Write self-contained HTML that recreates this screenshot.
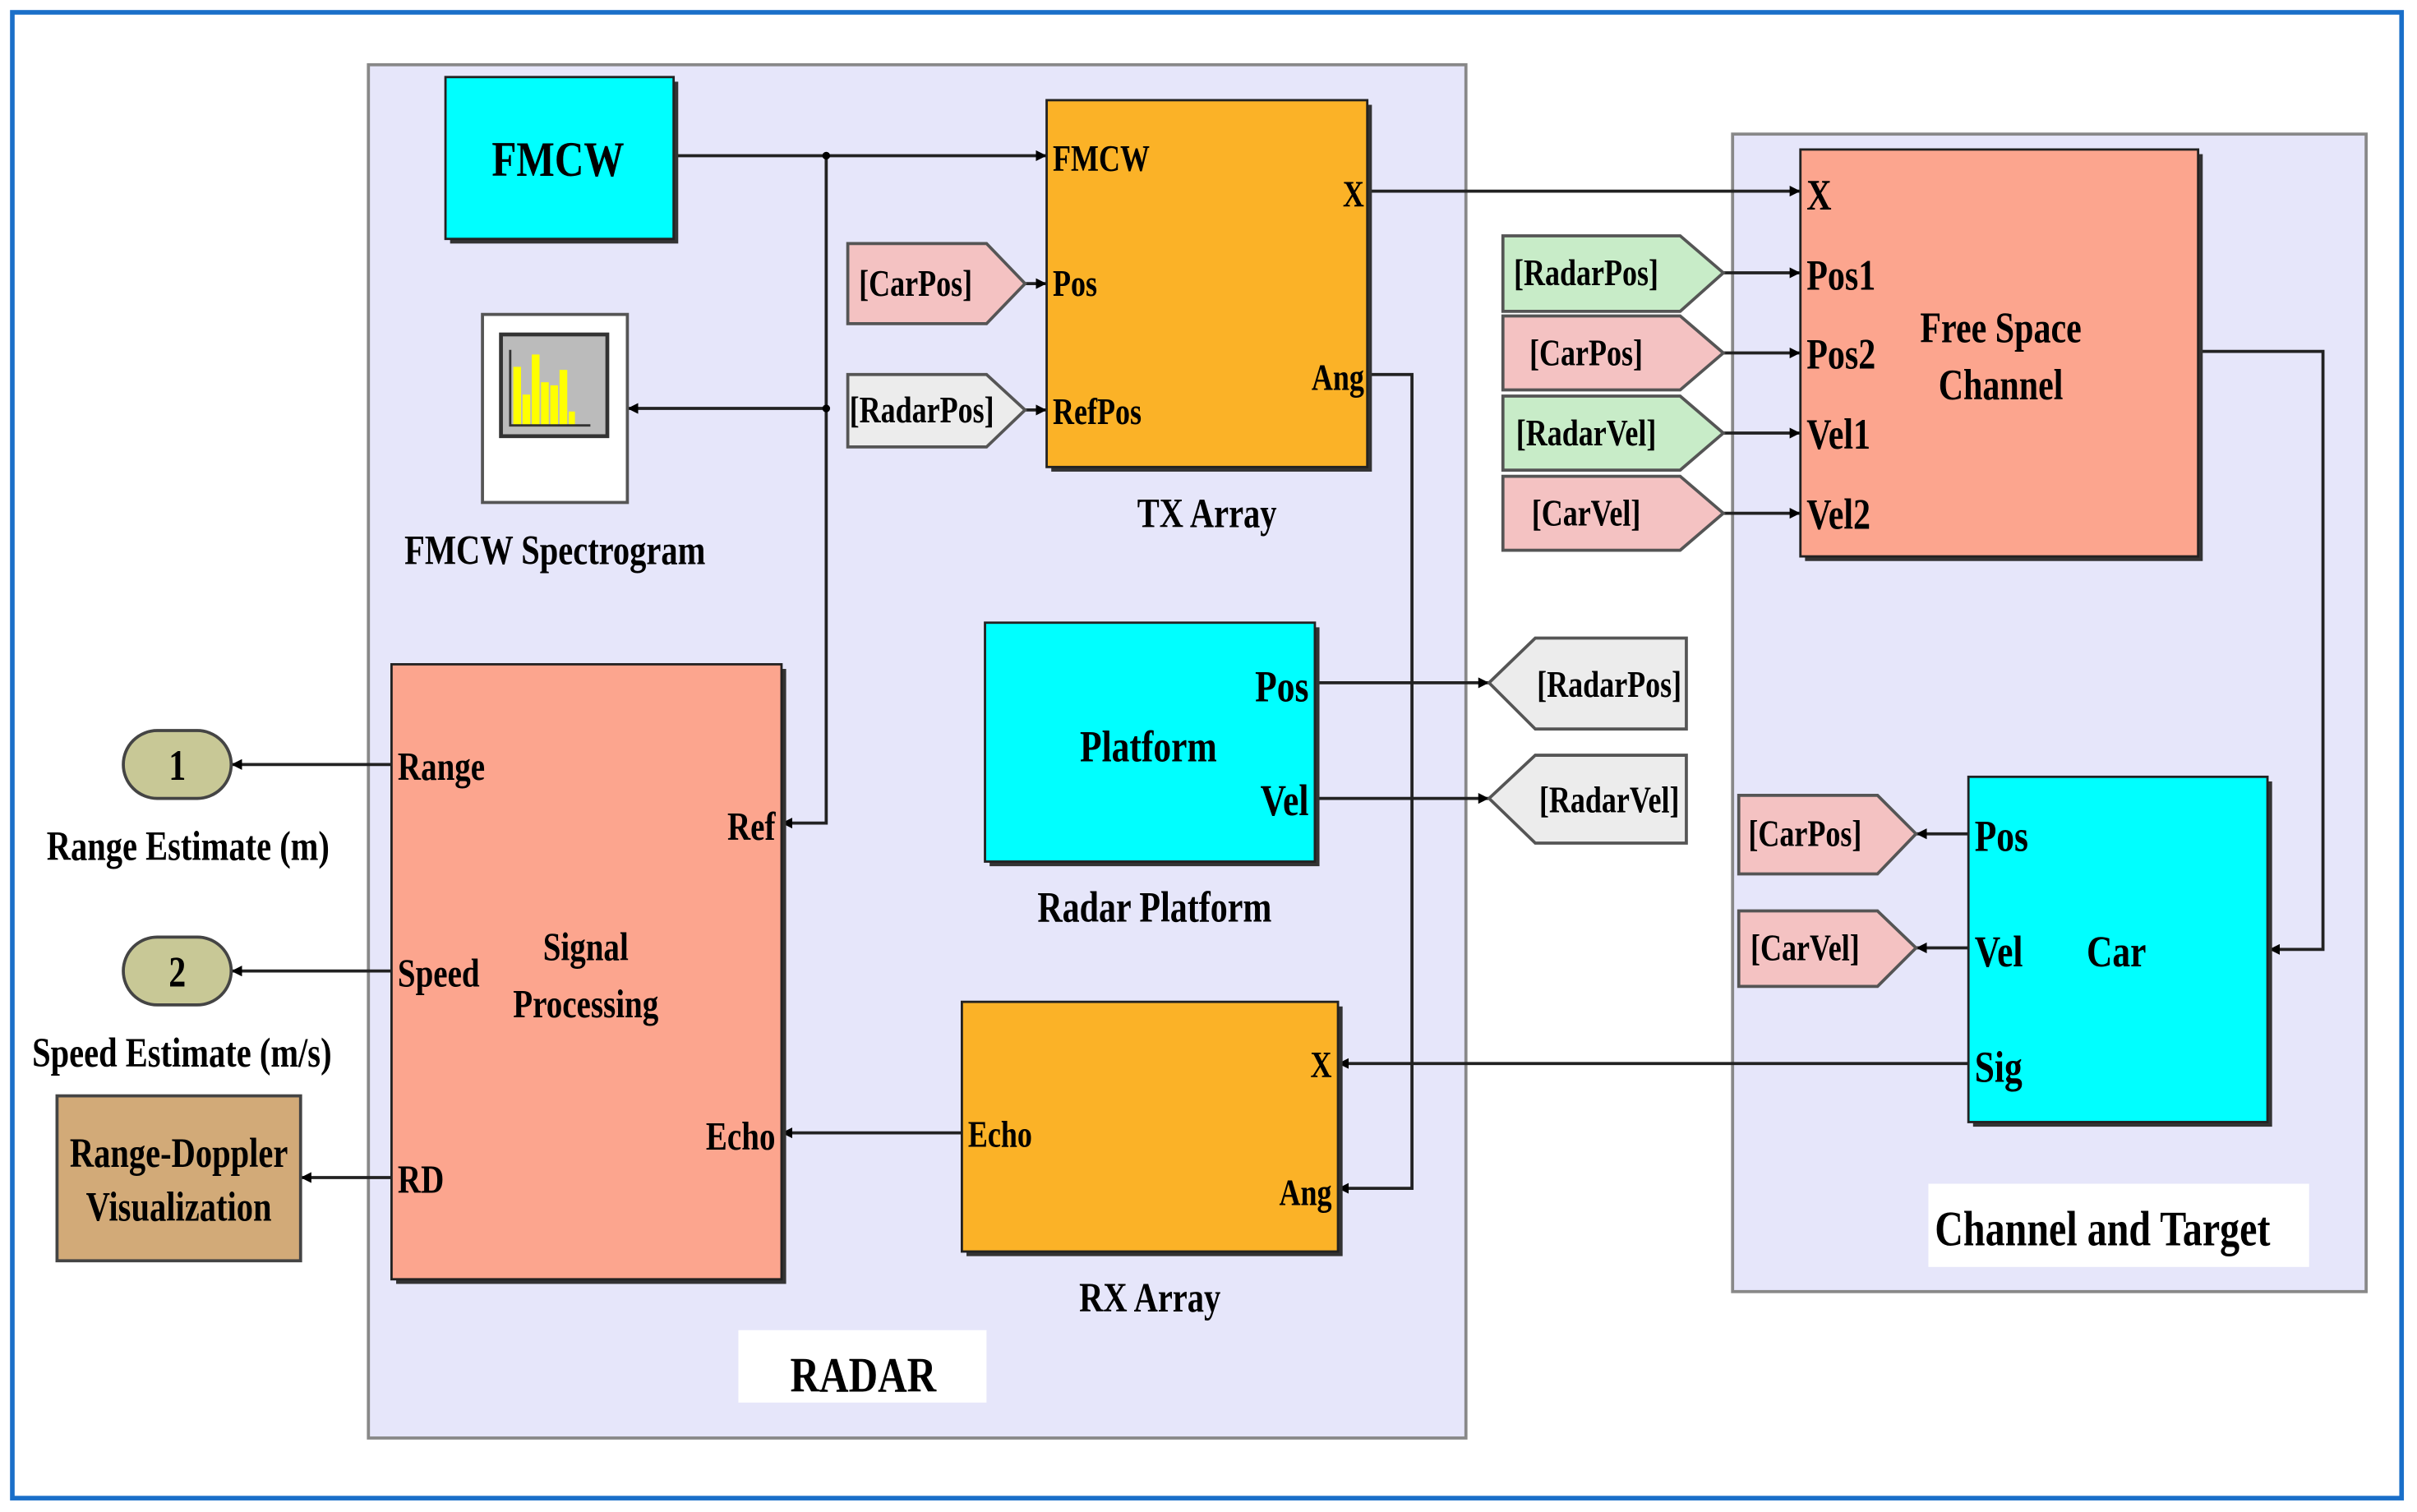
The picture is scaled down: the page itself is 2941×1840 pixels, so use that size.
<!DOCTYPE html>
<html><head><meta charset="utf-8"><style>
html,body{margin:0;padding:0;background:#fff;}
svg{display:block;}
text{font-family:"Liberation Serif",serif;font-weight:bold;fill:#000;}
</style></head><body>
<svg width="2941" height="1840" viewBox="0 0 1568 981" xmlns="http://www.w3.org/2000/svg">
<defs>
<marker id="a" viewBox="0 0 10 10" refX="10" refY="5" markerWidth="7" markerHeight="7" orient="auto" markerUnits="userSpaceOnUse"><path d="M0,0L10,5L0,10z" fill="#000"/></marker>
</defs>
<rect x="0" y="0" width="1568" height="981" fill="#fff"/>
<rect x="8" y="8" width="1550" height="964" fill="#fff" stroke="#1a6fc9" stroke-width="3"/>

<!-- subsystems -->
<rect x="239" y="42" width="712" height="891" fill="#e6e6fa" stroke="#888" stroke-width="2"/>
<rect x="1124" y="87" width="411" height="751" fill="#e6e6fa" stroke="#888" stroke-width="2"/>
<rect x="479" y="863" width="161" height="47" fill="#fff"/>
<text transform="translate(560,903) scale(0.82,1)" font-size="32" text-anchor="middle">RADAR</text>
<rect x="1251" y="768" width="247" height="54" fill="#fff"/>
<text transform="translate(1364,808) scale(0.8,1)" font-size="32" text-anchor="middle">Channel and Target</text>

<!-- connectors -->
<g stroke="#222" stroke-width="2" fill="none">
<path d="M437,101H679" marker-end="url(#a)"/>
<path d="M536,101V534H507" marker-end="url(#a)"/>
<path d="M536,265H407" marker-end="url(#a)"/>
<path d="M887,243H916V771H868" marker-end="url(#a)"/>
<path d="M887,124H1168" marker-end="url(#a)"/>
<path d="M1118,177H1168" marker-end="url(#a)"/>
<path d="M1118,229H1168" marker-end="url(#a)"/>
<path d="M1118,281H1168" marker-end="url(#a)"/>
<path d="M1118,333H1168" marker-end="url(#a)"/>
<path d="M1426,228H1507V616H1472" marker-end="url(#a)"/>
<path d="M853,443H966" marker-end="url(#a)"/>
<path d="M853,518H966" marker-end="url(#a)"/>
<path d="M254,496H150" marker-end="url(#a)"/>
<path d="M254,630H150" marker-end="url(#a)"/>
<path d="M254,764H195" marker-end="url(#a)"/>
<path d="M624,735H507" marker-end="url(#a)"/>
<path d="M1277,690H868" marker-end="url(#a)"/>
<path d="M1277,541H1243" marker-end="url(#a)"/>
<path d="M1277,615H1243" marker-end="url(#a)"/>
<path d="M665,184H679" marker-end="url(#a)"/>
<path d="M665,266H679" marker-end="url(#a)"/>
</g>
<circle cx="536" cy="101" r="2.5" fill="#000"/>
<circle cx="536" cy="265" r="2.5" fill="#000"/>

<!-- FMCW -->
<rect x="292" y="53" width="148" height="105" fill="#333"/>
<rect x="289" y="50" width="148" height="105" fill="#00ffff" stroke="#222" stroke-width="1.5"/>
<text transform="translate(362,114) scale(0.82,1)" font-size="32" text-anchor="middle">FMCW</text>

<!-- spectrogram -->
<rect x="313" y="204" width="94" height="122" fill="#fff" stroke="#555" stroke-width="2"/>
<rect x="325" y="217" width="69" height="66" fill="#bbb" stroke="#333" stroke-width="2.5"/>
<g fill="#ffff00">
<rect x="333" y="238" width="5" height="38"/><rect x="339" y="256" width="5" height="20"/>
<rect x="345" y="230" width="5" height="46"/><rect x="351" y="248" width="5" height="28"/>
<rect x="357" y="250" width="5" height="26"/><rect x="363" y="240" width="5" height="36"/>
<rect x="369" y="267" width="4" height="9"/>
</g>
<path d="M331,227V276H383" stroke="#333" stroke-width="1.5" fill="none"/>
<text transform="translate(360,366) scale(0.8,1)" font-size="27" text-anchor="middle">FMCW Spectrogram</text>

<!-- TX Array -->
<rect x="682" y="68" width="208" height="238" fill="#333"/>
<rect x="679" y="65" width="208" height="238" fill="#fbb227" stroke="#222" stroke-width="1.5"/>
<g font-size="24">
<text transform="translate(683,111) scale(0.8,1)">FMCW</text>
<text transform="translate(683,192) scale(0.8,1)">Pos</text>
<text transform="translate(683,275) scale(0.8,1)">RefPos</text>
<text transform="translate(885,134) scale(0.8,1)" text-anchor="end">X</text>
<text transform="translate(885,253) scale(0.8,1)" text-anchor="end">Ang</text>
</g>
<text transform="translate(783,342) scale(0.8,1)" font-size="27" text-anchor="middle">TX Array</text>

<!-- tags right-pointing -->
<g stroke="#555" stroke-width="2">
<polygon points="550,158 640,158 665,184 640,210 550,210" fill="#f4c2c2"/>
<polygon points="550,243 640,243 665,266 640,290 550,290" fill="#ececec"/>
<polygon points="975,153 1090,153 1118,177 1090,202 975,202" fill="#c8ecc8"/>
<polygon points="975,205 1090,205 1118,229 1090,253 975,253" fill="#f4c2c2"/>
<polygon points="975,257 1090,257 1118,281 1090,305 975,305" fill="#c8ecc8"/>
<polygon points="975,309 1090,309 1118,333 1090,357 975,357" fill="#f4c2c2"/>
<polygon points="1128,516 1218,516 1243,541 1218,567 1128,567" fill="#f4c2c2"/>
<polygon points="1128,591 1218,591 1243,615 1218,640 1128,640" fill="#f4c2c2"/>
<polygon points="966,443 996,414 1094,414 1094,473 996,473" fill="#ececec"/>
<polygon points="966,518 996,490 1094,490 1094,547 996,547" fill="#ececec"/>
</g>
<g font-size="24" text-anchor="middle">
<text transform="translate(594,192) scale(0.8,1)">[CarPos]</text>
<text transform="translate(598,274) scale(0.8,1)">[RadarPos]</text>
<text transform="translate(1029,185) scale(0.8,1)">[RadarPos]</text>
<text transform="translate(1029,237) scale(0.8,1)">[CarPos]</text>
<text transform="translate(1029,289) scale(0.8,1)">[RadarVel]</text>
<text transform="translate(1029,341) scale(0.8,1)">[CarVel]</text>
<text transform="translate(1171,549) scale(0.8,1)">[CarPos]</text>
<text transform="translate(1171,623) scale(0.8,1)">[CarVel]</text>
<text transform="translate(1044,452) scale(0.8,1)">[RadarPos]</text>
<text transform="translate(1044,527) scale(0.8,1)">[RadarVel]</text>
</g>

<!-- Free space channel -->
<rect x="1171" y="100" width="258" height="264" fill="#333"/>
<rect x="1168" y="97" width="258" height="264" fill="#fca58e" stroke="#222" stroke-width="1.5"/>
<g font-size="28">
<text transform="translate(1172,136) scale(0.8,1)">X</text>
<text transform="translate(1172,188) scale(0.8,1)">Pos1</text>
<text transform="translate(1172,239) scale(0.8,1)">Pos2</text>
<text transform="translate(1172,291) scale(0.8,1)">Vel1</text>
<text transform="translate(1172,343) scale(0.8,1)">Vel2</text>
<text transform="translate(1298,222) scale(0.8,1)" text-anchor="middle">Free Space</text>
<text transform="translate(1298,259) scale(0.8,1)" text-anchor="middle">Channel</text>
</g>

<!-- Platform -->
<rect x="642" y="407" width="214" height="155" fill="#333"/>
<rect x="639" y="404" width="214" height="155" fill="#00ffff" stroke="#222" stroke-width="1.5"/>
<g font-size="29">
<text transform="translate(745,494) scale(0.8,1)" text-anchor="middle">Platform</text>
<text transform="translate(849,455) scale(0.8,1)" text-anchor="end">Pos</text>
<text transform="translate(849,529) scale(0.8,1)" text-anchor="end">Vel</text>
</g>
<text transform="translate(749,598) scale(0.8,1)" font-size="28" text-anchor="middle">Radar Platform</text>

<!-- Signal Processing -->
<rect x="257" y="434" width="253" height="399" fill="#333"/>
<rect x="254" y="431" width="253" height="399" fill="#fca58e" stroke="#222" stroke-width="1.5"/>
<g font-size="26">
<text transform="translate(258,506) scale(0.8,1)">Range</text>
<text transform="translate(258,640) scale(0.8,1)">Speed</text>
<text transform="translate(258,774) scale(0.8,1)">RD</text>
<text transform="translate(503,545) scale(0.8,1)" text-anchor="end">Ref</text>
<text transform="translate(503,746) scale(0.8,1)" text-anchor="end">Echo</text>
<text transform="translate(380,623) scale(0.8,1)" text-anchor="middle">Signal</text>
<text transform="translate(380,660) scale(0.8,1)" text-anchor="middle">Processing</text>
</g>

<!-- outports -->
<rect x="80" y="474" width="70" height="44" rx="22" fill="#c8c896" stroke="#444" stroke-width="2"/>
<rect x="80" y="608" width="70" height="44" rx="22" fill="#c8c896" stroke="#444" stroke-width="2"/>
<text transform="translate(115,506) scale(0.8,1)" font-size="28" text-anchor="middle">1</text>
<text transform="translate(115,640) scale(0.8,1)" font-size="28" text-anchor="middle">2</text>
<text transform="translate(122,558) scale(0.8,1)" font-size="27" text-anchor="middle">Range Estimate (m)</text>
<text transform="translate(118,692) scale(0.8,1)" font-size="27" text-anchor="middle">Speed Estimate (m/s)</text>
<rect x="37" y="711" width="158" height="107" fill="#d2aa78" stroke="#444" stroke-width="2"/>
<text transform="translate(116,757) scale(0.8,1)" font-size="27" text-anchor="middle">Range-Doppler</text>
<text transform="translate(116,792) scale(0.8,1)" font-size="27" text-anchor="middle">Visualization</text>

<!-- RX Array -->
<rect x="627" y="653" width="244" height="162" fill="#333"/>
<rect x="624" y="650" width="244" height="162" fill="#fbb227" stroke="#222" stroke-width="1.5"/>
<g font-size="24">
<text transform="translate(628,744) scale(0.8,1)">Echo</text>
<text transform="translate(864,699) scale(0.8,1)" text-anchor="end">X</text>
<text transform="translate(864,782) scale(0.8,1)" text-anchor="end">Ang</text>
</g>
<text transform="translate(746,851) scale(0.8,1)" font-size="27" text-anchor="middle">RX Array</text>

<!-- Car -->
<rect x="1280" y="507" width="194" height="224" fill="#333"/>
<rect x="1277" y="504" width="194" height="224" fill="#00ffff" stroke="#222" stroke-width="1.5"/>
<g font-size="29">
<text transform="translate(1281,552) scale(0.8,1)">Pos</text>
<text transform="translate(1281,627) scale(0.8,1)">Vel</text>
<text transform="translate(1373,627) scale(0.8,1)" text-anchor="middle">Car</text>
<text transform="translate(1281,702) scale(0.8,1)">Sig</text>
</g>
</svg>
</body></html>
